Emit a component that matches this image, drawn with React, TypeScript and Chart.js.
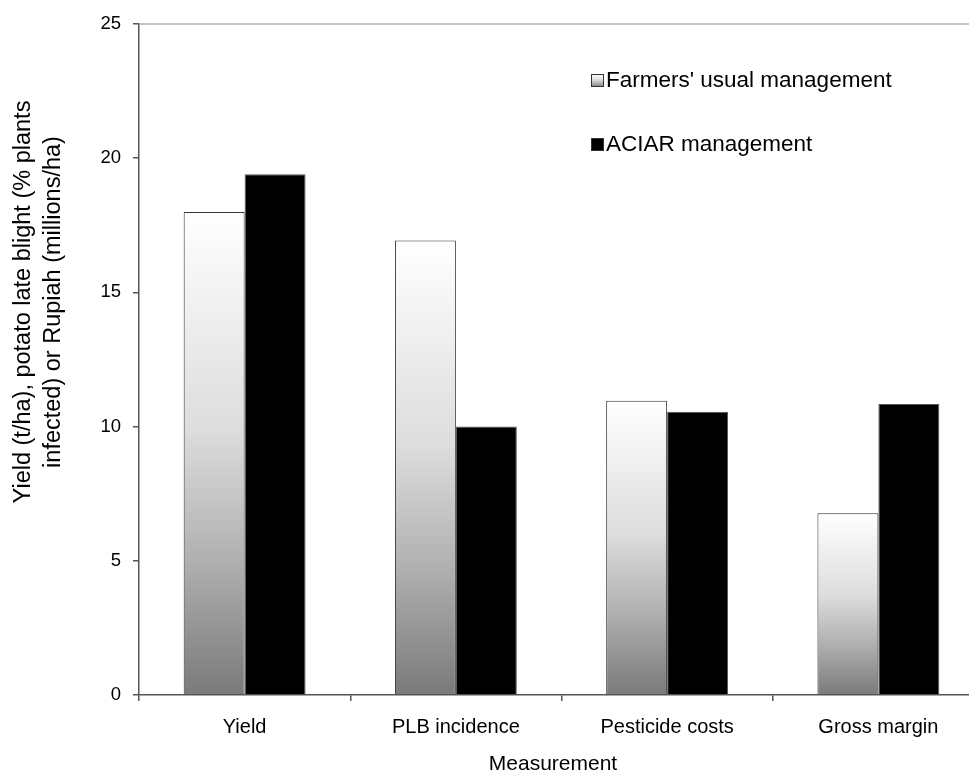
import React, { useEffect, useRef } from "react";
import { Chart, registerables } from "chart.js";

Chart.register(...registerables);

const categories = ["Yield", "PLB incidence", "Pesticide costs", "Gross margin"];
const farmersValues = [18.0, 16.93, 10.96, 6.77];
const aciarValues = [19.4, 10.0, 10.55, 10.84];
const seriesLabels = ["Farmers' usual management", "ACIAR management"];
const yTicks = [0, 5, 10, 15, 20, 25];
const yTitleLines = ["Yield (t/ha), potato late blight (% plants", "infected) or Rupiah (millions/ha)"];
const xTitle = "Measurement";

const FONT = "'Liberation Sans', Arial, sans-serif";

function makeGradient(ctx: CanvasRenderingContext2D, top: number, bottom: number) {
  const g = ctx.createLinearGradient(0, top, 0, bottom);
  g.addColorStop(0, "#ffffff");
  g.addColorStop(0.45, "#dddddd");
  g.addColorStop(0.72, "#b0b0b0");
  g.addColorStop(1, "#7a7a7a");
  return g;
}

const decorPlugin = {
  id: "decor",
  beforeDatasetsDraw(chart: any) {
    const ctx = chart.ctx as CanvasRenderingContext2D;
    const { left, top } = chart.chartArea;
    ctx.save();
    ctx.strokeStyle = "#b0b0b0";
    ctx.lineWidth = 1.5;
    ctx.beginPath();
    ctx.moveTo(left, top);
    ctx.lineTo(chart.width, top);
    ctx.stroke();
    ctx.restore();
  },
  afterDraw(chart: any) {
    const ctx = chart.ctx as CanvasRenderingContext2D;
    ctx.save();
    ctx.fillStyle = "#000";
    ctx.font = `23.5px ${FONT}`;
    ctx.textAlign = "center";
    ctx.textBaseline = "alphabetic";
    const cy = 302;
    const xs = [30, 60];
    yTitleLines.forEach((line, i) => {
      ctx.save();
      ctx.translate(xs[i], cy);
      ctx.rotate(-Math.PI / 2);
      ctx.fillText(line, 0, 0);
      ctx.restore();
    });
    ctx.font = `21px ${FONT}`;
    ctx.textAlign = "center";
    ctx.fillText(xTitle, 553, 770);
    ctx.font = `22.5px ${FONT}`;
    ctx.textAlign = "left";
    seriesLabels.forEach((label, i) => {
      const by = 74 + i * 64;
      const bx = 591;
      ctx.fillStyle = i === 0 ? makeGradient(ctx, by, by + 13) : "#000";
      ctx.fillRect(bx, by, 13, 13);
      ctx.strokeStyle = "#333";
      ctx.lineWidth = 1;
      ctx.strokeRect(bx + 0.5, by + 0.5, 12, 12);
      ctx.fillStyle = "#000";
      ctx.fillText(label, 606, by + 13);
    });
    ctx.restore();
  },
};

export default function App() {
  const ref = useRef<HTMLCanvasElement | null>(null);
  useEffect(() => {
    if (!ref.current) return;
    const chart = new Chart(ref.current, {
      type: "bar",
      data: {
        labels: categories,
        datasets: [
          {
            label: seriesLabels[0],
            data: farmersValues,
            backgroundColor: (c: any) => {
              const ch = c.chart;
              const ys = ch.scales?.y;
              if (!ys || typeof c.raw !== "number") return "#cccccc";
              const top = ys.getPixelForValue(c.raw);
              const base = ys.getPixelForValue(0);
              if (!isFinite(top) || !isFinite(base) || top === base) return "#cccccc";
              return makeGradient(ch.ctx, top, base);
            },
            borderColor: "#333333",
            borderWidth: 1,
          },
          {
            label: seriesLabels[1],
            data: aciarValues,
            backgroundColor: "#000000",
            borderColor: "#555555",
            borderWidth: 1,
          },
        ],
      },
      options: {
        animation: false,
        responsive: false,
        devicePixelRatio: 1,
        layout: { padding: { left: 0, right: 16, top: 24, bottom: 0 } },
        datasets: { bar: { categoryPercentage: 0.577, barPercentage: 1 } },
        plugins: { legend: { display: false }, tooltip: { enabled: false } },
        scales: {
          x: {
            offset: true,
            grid: { drawOnChartArea: false, offset: true, tickLength: 6, color: "#555", lineWidth: 1.5 },
            border: { color: "#555", width: 1.5 },
            ticks: { font: { family: FONT, size: 20 }, color: "#000", padding: 14, maxRotation: 0 },
            afterFit: (s: any) => {
              s.height = 78;
            },
          },
          y: {
            min: 0,
            max: 25,
            afterBuildTicks: (s: any) => {
              s.ticks = yTicks.map((v) => ({ value: v }));
            },
            grid: { drawOnChartArea: false, tickLength: 6, color: "#555", lineWidth: 1.5 },
            border: { color: "#555", width: 1.5 },
            ticks: { font: { family: FONT, size: 18.5 }, color: "#000", padding: 12 },
            afterFit: (s: any) => {
              s.width = 139;
            },
          },
        },
      },
      plugins: [decorPlugin],
    } as any);
    return () => chart.destroy();
  }, []);
  return (
    <div style={{ position: "fixed", left: 0, top: 0, width: 969, height: 773, overflow: "hidden", background: "#fff" }}>
      <canvas ref={ref} width={1000} height={773} style={{ display: "block", width: 1000, height: 773 }} />
    </div>
  );
}
